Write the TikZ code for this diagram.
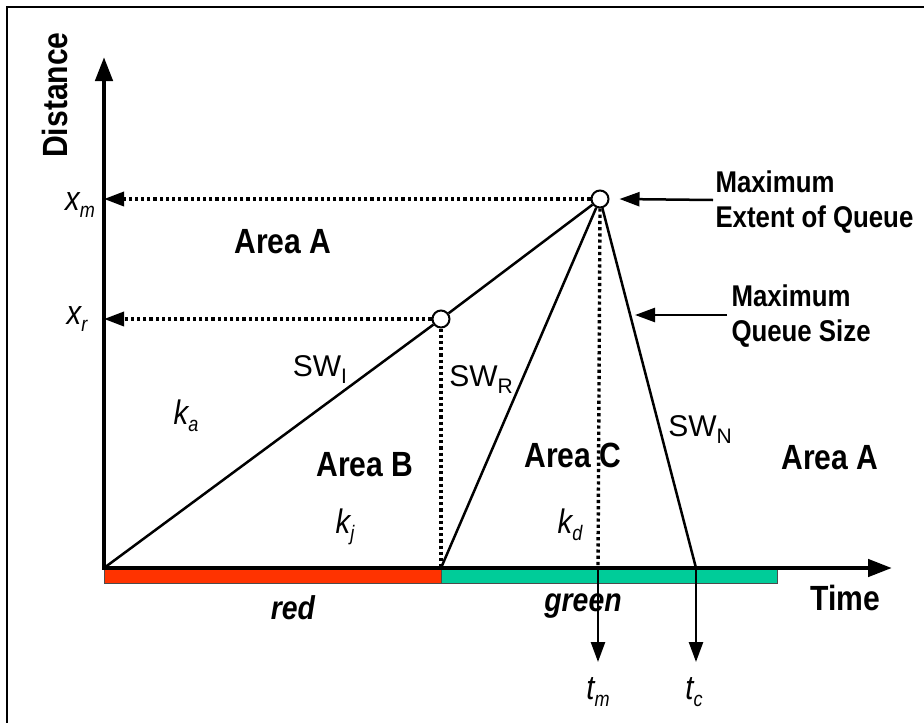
\documentclass[tikz,border=0pt]{standalone}
\usepackage{fontspec}
\setmainfont{Liberation Sans}
\newfontfamily\nb{Liberation Sans}[FakeStretch=0.86]
\usetikzlibrary{arrows.meta}
\definecolor{redbar}{RGB}{255,51,0}
\definecolor{greenbar}{RGB}{0,204,153}
\tikzset{
  axis/.style={line width=4.5pt,-{Triangle[length=24pt,width=17pt]}},
  wave/.style={line width=2.5pt},
  dotl/.style={line width=3.4pt,dash pattern=on 3.2pt off 3pt},
  tipl/.style={-{Triangle[length=20pt,width=14pt]}},
  circ/.style={circle,draw,line width=2pt,fill=white,minimum size=17pt,inner sep=0pt},
  big/.style={font=\nb\bfseries\fontsize{35}{37}\selectfont},
  note/.style={font=\nb\bfseries\fontsize{30}{35}\selectfont,align=left,anchor=west},
  swl/.style={font=\fontsize{30}{32}\selectfont},
  itl/.style={font=\nb\itshape\fontsize{34}{36}\selectfont},
  bar/.style={draw=black!70,line width=0.8pt}
}
\newcommand{\lowsub}[1]{\raisebox{-7pt}{\fontsize{21}{21}\selectfont #1}}
\begin{document}
\begin{tikzpicture}[x=1pt,y=-1pt]
\useasboundingbox (0,0) rectangle (924,723);
\begin{scope}
\clip (0,0) rectangle (924,723);
\draw[line width=2pt] (7,7) rectangle (935,735);
\end{scope}
% bars
\fill[redbar,bar] (104,568) rectangle (441,583);
\fill[greenbar,bar] (441,568) rectangle (777,583);
% coordinates
\coordinate (O) at (104,568);
\coordinate (ytip) at (104,57);
\coordinate (xtip) at (892,568);
\coordinate (ym) at (104,200);
\coordinate (B1) at (441,568);
\coordinate (M1) at (598,568);
\coordinate (C1) at (696,568);
\coordinate (tm) at (598,662);
\coordinate (tc) at (696,662);
\node[circ] (P1) at (441,319) {};
\node[circ] (P2) at (600,199) {};
% dotted guides
\draw[dotl] (P1) -- (B1);
\draw[dotl] (P2.south) -- (M1);
\draw[dotl,tipl] (P1) -- (ym |- P1);
\draw[dotl,tipl] (P2) -- (ym |- P2);
% shock waves
\draw[wave] (O) -- (P1);
\draw[wave] (P1) -- (P2);
\draw[wave] (B1) -- (P2);
\draw[wave] (P2) -- (C1);
\draw[wave,tipl] (M1) -- (tm);
\draw[wave,tipl] (C1) -- (tc);
% axes
\draw[axis] ([yshift=2pt]O) -- (ytip);
\draw[axis] ([xshift=-2pt]O) -- (xtip);
% annotation arrows
\coordinate (a1s) at (713,200);
\coordinate (a2s) at (727,315);
\draw[wave,tipl] (a1s) -- ([xshift=10pt]P2.east);
\draw[wave,tipl] (a2s) -- (635,315);
% labels
\node[big,rotate=90] (dist) at (55,95) {Distance};
\node[big] (time) at (845,598) {Time};
\node[itl] (xm) at (80,205) {x\lowsub{\itshape m}};
\node[itl] (xr) at (77,319) {x\lowsub{\itshape r}};
\node[big] (areaA1) at (283,242) {Area A};
\node[big] (areaB) at (365,465) {Area B};
\node[big] (areaC) at (573,455) {Area C};
\node[big] (areaA2) at (830,458) {Area A};
\node[swl] (swi) at (320,370) {SW\lowsub{I}};
\node[swl] (swr) at (481,380) {SW\lowsub{R}};
\node[swl] (swn) at (700,430) {SW\lowsub{N}};
\node[itl] (ka) at (186,416) {k\lowsub{\itshape a}};
\node[itl] (kj) at (345,527) {k\lowsub{\itshape j}};
\node[itl] (kd) at (570,525) {k\lowsub{\itshape d}};
\node[itl] (ttm) at (598,692) {t\lowsub{\itshape m}};
\node[itl] (ttc) at (694,692) {t\lowsub{\itshape c}};
\node[big,font=\nb\bfseries\itshape\fontsize{33}{35}\selectfont] (red) at (293,608) {red};
\node[big,font=\nb\bfseries\itshape\fontsize{33}{35}\selectfont] (green) at (583,606) {green};
\node[note] (n1) at (712,202) {Maximum\\Extent of Queue};
\node[note] (n2) at (728,316) {Maximum\\Queue Size};
\end{tikzpicture}
\end{document}
